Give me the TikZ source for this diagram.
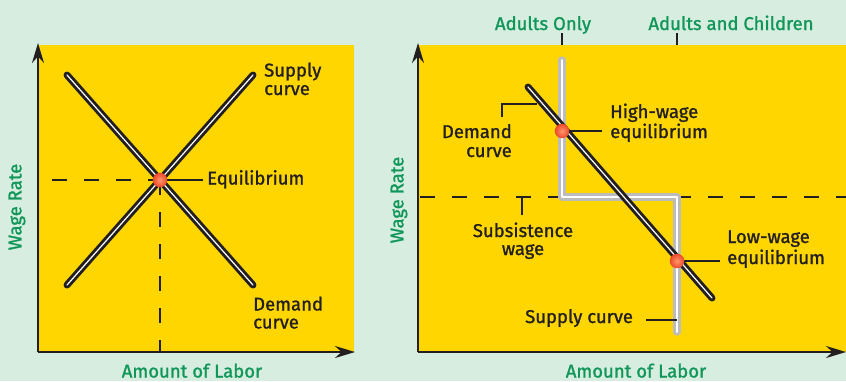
\documentclass[tikz,border=0pt]{standalone}
\usepackage{fontspec}
\setmainfont{Fira Sans}[FakeBold=1.2]
\usetikzlibrary{arrows.meta}
\definecolor{bgc}{RGB}{214,237,223}
\definecolor{yel}{RGB}{255,214,0}
\definecolor{ink}{RGB}{35,31,32}
\definecolor{grn}{RGB}{16,150,88}
\definecolor{gry}{RGB}{188,188,188}
\definecolor{dotin}{RGB}{255,150,105}
\definecolor{dotout}{RGB}{236,72,42}
\begin{document}
\begin{tikzpicture}[x=1pt,y=-1pt,
  lbl/.style={font=\fontsize{18.5}{19}\selectfont, text=ink, inner sep=0pt},
  ttl/.style={font=\fontsize{18.5}{19}\selectfont, text=grn, inner sep=0pt},
  curveline/.style={draw=ink, double=white, double distance=1.2pt, line width=2.9pt, line cap=round},
  supplyline/.style={draw=gry, double=white, double distance=1.8pt, line width=2.8pt, line cap=round, line join=round},
  axis/.style={draw=ink, line width=2pt, -{Stealth[length=20pt,width=12pt]}},
  dashline/.style={draw=ink, line width=2.2pt, dash pattern=on 15pt off 17pt},
  leader/.style={draw=ink, line width=1.3pt},
  eqdot/.style={circle, inner sep=0pt, minimum size=14.5pt, shading=radial, inner color=dotin, outer color=dotout}
]
\useasboundingbox (0,0) rectangle (846,381);
\fill[bgc] (0,0) rectangle (846,381);
\fill[yel] (38,45) rectangle (354,352);
\fill[yel] (418,45) rectangle (846,352);

% ---------- left panel ----------
\coordinate (LO) at (38,352);
\coordinate (LY) at (38,43);
\coordinate (LX) at (355,352);
\coordinate (LE) at (160,180);
\coordinate (LDH) at (52,180);
\coordinate (LDV) at (160,352);
\draw[dashline] (LDH) -- (LE);
\draw[dashline] (LE) -- (LDV);
\coordinate (LS1) at (67,285);
\coordinate (LS2) at (253,75);
\coordinate (LD1) at (67,75);
\coordinate (LD2) at (253,285);
\draw[curveline] (LS1) -- (LS2);
\draw[curveline] (LD1) -- (LD2);
\draw[axis] (LO) -- (LY);
\draw[axis] (LO) -- (LX);

\node[lbl, anchor=base west] (lsup1) at (264,76.5) {Supply};
\node[lbl, anchor=base west] (lsup2) at (264,95) {curve};
\node[lbl, anchor=base west] (ldem1) at (253,310.5) {Demand};
\node[lbl, anchor=base west] (ldem2) at (253,328.5) {curve};
\node[lbl, anchor=base west] (leq) at (207,184.5) {Equilibrium};
\coordinate (leqend) at (203,180);
\draw[leader] (LE) -- (leqend);
\node[eqdot] (ldot) at (LE) {};

\node[ttl, anchor=base] (lxl) at (192,377.5) {Amount of Labor};
\node[ttl, rotate=90] (lyl) at (17,207) {Wage Rate};

% ---------- right panel ----------
\coordinate (RO) at (418,352);
\coordinate (RY) at (418,43);
\coordinate (RX) at (846,352);
\coordinate (RDa) at (420,197);
\coordinate (RDb) at (846,197);
\draw[dashline] (RDa) -- (RDb);

\coordinate (RS1) at (562,60);
\coordinate (RS2) at (562,197);
\coordinate (RS3) at (677,197);
\coordinate (RS4) at (677,332);
\draw[supplyline] (RS1) -- (RS2) -- (RS3) -- (RS4);

\coordinate (RD1) at (528,87);
\coordinate (RD2) at (712,298);
\draw[curveline] (RD1) -- (RD2);

\draw[axis] (RO) -- (RY);
\draw[axis] (RO) -- (RX);

% top labels and ticks
\node[ttl, anchor=base] (adults) at (543,30) {Adults Only};
\node[ttl, anchor=base] (adultsch) at (731,30) {Adults and Children};
\coordinate (t1a) at (562,33);
\coordinate (t1b) at (562,45);
\coordinate (t2a) at (677,33);
\coordinate (t2b) at (677,45);
\draw[leader] (t1a) -- (t1b);
\draw[leader] (t2a) -- (t2b);

% demand curve label
\node[lbl, anchor=base east] (rdem1) at (512,138) {Demand};
\node[lbl, anchor=base east] (rdem2) at (512,157) {curve};
\coordinate (rdl1) at (537,104);
\coordinate (rdl2) at (502,104);
\coordinate (rdl3) at (502,117);
\draw[leader] (rdl1) -- (rdl2) -- (rdl3);

% high-wage
\coordinate (HE) at (562,131);
\node[lbl, anchor=base west] (hw1) at (610,118) {High-wage};
\node[lbl, anchor=base west] (hw2) at (610,138) {equilibrium};
\coordinate (hwend) at (602,131);
\draw[leader] (HE) -- (hwend);
\node[eqdot] (hdot) at (HE) {};

% low-wage
\coordinate (LWE) at (677,261);
\node[lbl, anchor=base west] (lw1) at (727,243) {Low-wage};
\node[lbl, anchor=base west] (lw2) at (727,264) {equilibrium};
\coordinate (lwend) at (720,261);
\draw[leader] (LWE) -- (lwend);
\node[eqdot] (lwdot) at (LWE) {};

% subsistence wage
\node[lbl, anchor=base] (sub1) at (523,237) {Subsistence};
\node[lbl, anchor=base] (sub2) at (523,255) {wage};
\coordinate (sl1) at (522,197);
\coordinate (sl2) at (522,215);
\draw[leader] (sl1) -- (sl2);

% supply curve label
\node[lbl, anchor=base west] (rsup) at (525,323) {Supply curve};
\coordinate (rsl1) at (646,320);
\coordinate (rsl2) at (677,320);
\draw[leader] (rsl1) -- (rsl2);

\node[ttl, anchor=base] (rxl) at (636,377.5) {Amount of Labor};
\node[ttl, rotate=90] (ryl) at (399,200) {Wage Rate};
\end{tikzpicture}
\end{document}
